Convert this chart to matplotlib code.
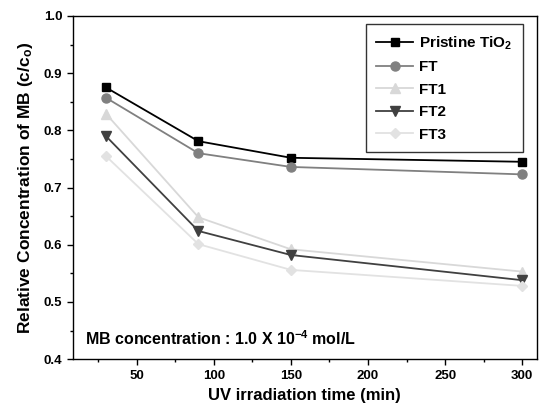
import matplotlib
matplotlib.use("Agg")
import matplotlib.pyplot as plt
from matplotlib.ticker import MultipleLocator

plt.rcParams['font.family'] = ['Liberation Sans', 'DejaVu Sans']
plt.rcParams['font.weight'] = 'bold'
plt.rcParams['mathtext.fontset'] = 'custom'
plt.rcParams['mathtext.rm'] = 'Liberation Sans:bold'
plt.rcParams['mathtext.bf'] = 'Liberation Sans:bold'
plt.rcParams['mathtext.default'] = 'bf'

# irradiation times (min)
time = [30, 90, 150, 300]

# relative concentration c/c0
pristine = [0.875, 0.781, 0.752, 0.745]
ft = [0.857, 0.760, 0.736, 0.723]
ft1 = [0.829, 0.648, 0.592, 0.553]
ft2 = [0.790, 0.624, 0.582, 0.538]
ft3 = [0.755, 0.601, 0.556, 0.528]

labels = ["Pristine TiO$_2$", "FT", "FT1", "FT2", "FT3"]

fig = plt.figure(figsize=(5.39, 4.09), dpi=100)
ax = fig.add_axes([0.135, 0.122, 0.861, 0.839])

ax.plot(time, pristine, color='black', marker='s', ms=6, lw=1.3, label=labels[0])
ax.plot(time, ft, color='#808080', marker='o', ms=6.5, lw=1.3, label=labels[1])
ax.plot(time, ft1, color='#d8d8d8', marker='^', ms=7, lw=1.3, label=labels[2])
ax.plot(time, ft2, color='#404040', marker='v', ms=7, lw=1.3, label=labels[3])
ax.plot(time, ft3, color='#e2e2e2', marker='D', ms=5.5, lw=1.3, label=labels[4])

ax.set_xlim(8.5, 309.5)
ax.set_ylim(0.4, 1.0)
ax.xaxis.set_major_locator(MultipleLocator(50))
ax.xaxis.set_minor_locator(MultipleLocator(25))
ax.yaxis.set_major_locator(MultipleLocator(0.1))
ax.yaxis.set_minor_locator(MultipleLocator(0.05))
ax.set_xticks([50, 100, 150, 200, 250, 300])
ax.yaxis.set_major_formatter(plt.FormatStrFormatter('%.1f'))
ax.tick_params(which='major', direction='out', length=4, width=1, labelsize=9.5)
ax.tick_params(which='minor', direction='out', length=2.5, width=1)
for s in ax.spines.values():
    s.set_linewidth(1)

ax.set_xlabel("UV irradiation time (min)", fontsize=12, fontweight='bold', labelpad=5)
ax.set_ylabel("Relative Concentration of MB (c/c$_o$)", fontsize=12.5,
              fontweight='bold', labelpad=6)

ax.text(0.027, 0.04, "MB concentration : 1.0 X 10$^{-4}$ mol/L",
        transform=ax.transAxes, fontsize=11.5, fontweight='bold', va='baseline')

leg = ax.legend(loc='upper right', bbox_to_anchor=(0.970, 0.977), borderaxespad=0,
                fontsize=11, frameon=True, fancybox=False, edgecolor='black',
                handlelength=2.4, labelspacing=0.55, borderpad=0.7, handletextpad=0.4)
leg.get_frame().set_linewidth(1)

fig.savefig("out.png", dpi=100)
